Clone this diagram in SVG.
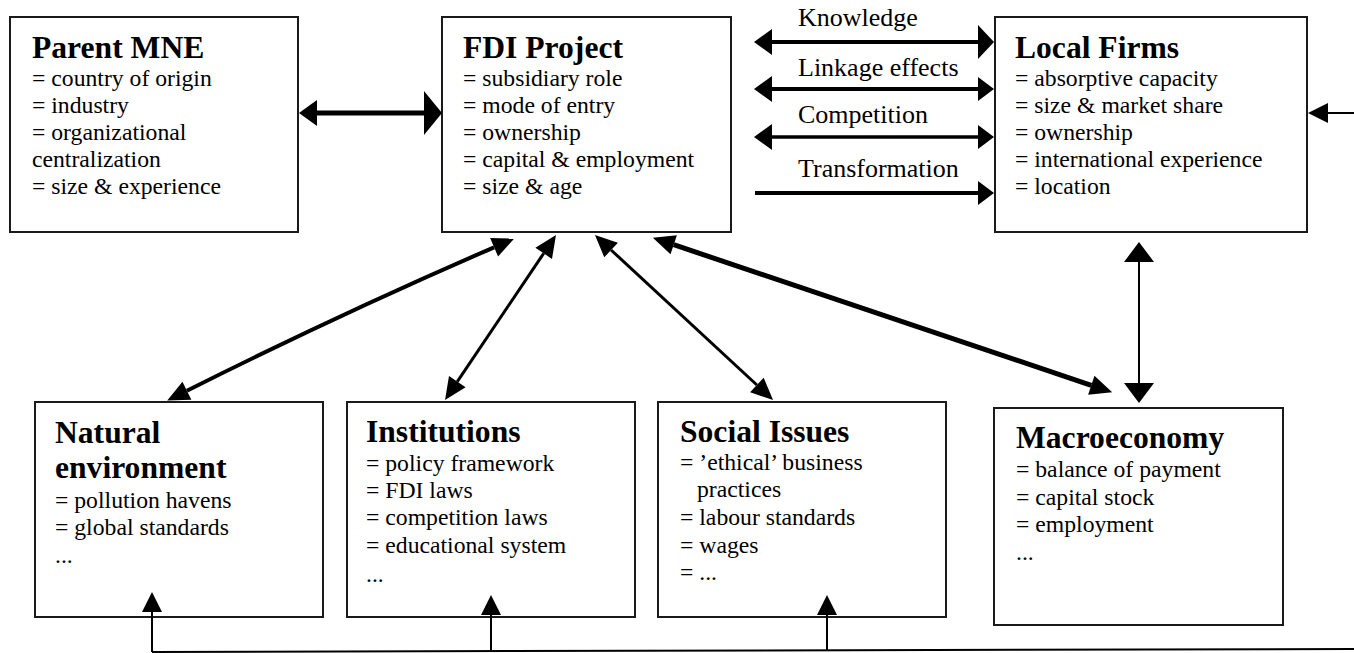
<svg xmlns="http://www.w3.org/2000/svg" width="1354" height="653" viewBox="0 0 1354 653">
  <style>
    .box { fill: #ffffff; stroke: #1a1a1a; stroke-width: 2; }
    .title { font-family: "Liberation Serif", "Times New Roman", "DejaVu Serif", serif; font-weight: bold; font-size: 31.6px; fill: #000; }
    .item { font-family: "Liberation Serif", "Times New Roman", "DejaVu Serif", serif; font-size: 23.7px; fill: #000; }
    .lbl { font-family: "Liberation Serif", "Times New Roman", "DejaVu Serif", serif; font-size: 26px; fill: #000; }
    .ln { fill: none; stroke: #000; }
  </style>
  <defs>
    <!-- arrowheads: base sits on the line end, tip points outward -->
    <marker id="mA" markerUnits="userSpaceOnUse" orient="auto-start-reverse" refX="0" refY="0" markerWidth="20" markerHeight="46" overflow="visible">
      <path d="M0,-22 L18,0 L0,22 z" fill="#000"/>
    </marker>
    <marker id="mB" markerUnits="userSpaceOnUse" orient="auto-start-reverse" refX="0" refY="0" markerWidth="20" markerHeight="30" overflow="visible">
      <path d="M0,-13 L18,0 L0,13 z" fill="#000"/>
    </marker>
    <marker id="mC" markerUnits="userSpaceOnUse" orient="auto-start-reverse" refX="0" refY="0" markerWidth="20" markerHeight="36" overflow="visible">
      <path d="M0,-17 L16,0 L0,17 z" fill="#000"/>
    </marker>
    <marker id="mD" markerUnits="userSpaceOnUse" orient="auto-start-reverse" refX="0" refY="0" markerWidth="20" markerHeight="26" overflow="visible">
      <path d="M0,-12 L16,0 L0,12 z" fill="#000"/>
    </marker>
    <marker id="mE" markerUnits="userSpaceOnUse" orient="auto-start-reverse" refX="0" refY="0" markerWidth="22" markerHeight="22" overflow="visible">
      <path d="M0,-10 L20,0 L0,10 z" fill="#000"/>
    </marker>
    <marker id="mF" markerUnits="userSpaceOnUse" orient="auto-start-reverse" refX="0" refY="0" markerWidth="22" markerHeight="32" overflow="visible">
      <path d="M0,-15 L20,0 L0,15 z" fill="#000"/>
    </marker>
    <marker id="mG" markerUnits="userSpaceOnUse" orient="auto-start-reverse" refX="0" refY="0" markerWidth="24" markerHeight="22" overflow="visible">
      <path d="M0,-10 L22,0 L0,10 z" fill="#000"/>
    </marker>
  </defs>

  <!-- Parent MNE -->
  <g id="parent-mne">
    <rect class="box" x="10" y="17" width="288" height="215"/>
    <text class="title" x="32" y="58">Parent MNE</text>
    <text class="item" x="32" y="86">= country of origin</text>
    <text class="item" x="32" y="113">= industry</text>
    <text class="item" x="32" y="140">= organizational</text>
    <text class="item" x="32" y="167">centralization</text>
    <text class="item" x="32" y="194">= size &amp; experience</text>
  </g>

  <!-- FDI Project -->
  <g id="fdi-project">
    <rect class="box" x="442" y="17" width="289" height="215"/>
    <text class="title" x="463" y="58">FDI Project</text>
    <text class="item" x="463" y="86">= subsidiary role</text>
    <text class="item" x="463" y="113">= mode of entry</text>
    <text class="item" x="463" y="140">= ownership</text>
    <text class="item" x="463" y="167">= capital &amp; employment</text>
    <text class="item" x="463" y="194">= size &amp; age</text>
  </g>

  <!-- Local Firms -->
  <g id="local-firms">
    <rect class="box" x="995" y="17" width="312" height="215"/>
    <text class="title" x="1015" y="58">Local Firms</text>
    <text class="item" x="1015" y="86">= absorptive capacity</text>
    <text class="item" x="1015" y="113">= size &amp; market share</text>
    <text class="item" x="1015" y="140">= ownership</text>
    <text class="item" x="1015" y="167">= international experience</text>
    <text class="item" x="1015" y="194">= location</text>
  </g>

  <!-- Natural environment -->
  <g id="natural-environment">
    <rect class="box" x="35" y="402" width="288" height="215"/>
    <text class="title" x="55" y="443">Natural</text>
    <text class="title" x="55" y="478">environment</text>
    <text class="item" x="55" y="508">= pollution havens</text>
    <text class="item" x="55" y="535">= global standards</text>
    <text class="item" x="55" y="563">...</text>
  </g>

  <!-- Institutions -->
  <g id="institutions">
    <rect class="box" x="347" y="402" width="288" height="215"/>
    <text class="title" x="366" y="442">Institutions</text>
    <text class="item" x="366" y="471">= policy framework</text>
    <text class="item" x="366" y="498">= FDI laws</text>
    <text class="item" x="366" y="525">= competition laws</text>
    <text class="item" x="366" y="553">= educational system</text>
    <text class="item" x="366" y="582">...</text>
  </g>

  <!-- Social Issues -->
  <g id="social-issues">
    <rect class="box" x="658" y="402" width="288" height="215"/>
    <text class="title" x="680" y="442">Social Issues</text>
    <text class="item" x="680" y="470">= ’ethical’ business</text>
    <text class="item" x="697" y="497">practices</text>
    <text class="item" x="680" y="525">= labour standards</text>
    <text class="item" x="680" y="553">= wages</text>
    <text class="item" x="680" y="580">= ...</text>
  </g>

  <!-- Macroeconomy -->
  <g id="macroeconomy">
    <rect class="box" x="994" y="408" width="289" height="217"/>
    <text class="title" x="1016" y="448">Macroeconomy</text>
    <text class="item" x="1016" y="477">= balance of payment</text>
    <text class="item" x="1016" y="505">= capital stock</text>
    <text class="item" x="1016" y="532">= employment</text>
    <text class="item" x="1016" y="560">...</text>
  </g>

  <!-- effect labels -->
  <g id="effect-labels">
    <text class="lbl" x="798" y="26">Knowledge</text>
    <text class="lbl" x="798" y="76">Linkage effects</text>
    <text class="lbl" x="798" y="123">Competition</text>
    <text class="lbl" x="798" y="177">Transformation</text>
  </g>

  <!-- connectors (drawn last so the feedback heads sit over the box fills) -->
  <g id="connectors">
    <!-- Parent MNE <-> FDI Project -->
    <line class="ln" x1="317" y1="113" x2="424" y2="113" stroke-width="5" marker-start="url(#mB)" marker-end="url(#mA)"/>
    <!-- FDI Project <-> Local Firms -->
    <line class="ln" x1="772" y1="42" x2="978" y2="42" stroke-width="4" marker-start="url(#mB)" marker-end="url(#mC)"/>
    <line class="ln" x1="772" y1="89" x2="978" y2="89" stroke-width="4" marker-start="url(#mB)" marker-end="url(#mD)"/>
    <line class="ln" x1="772" y1="137" x2="978" y2="137" stroke-width="3.5" marker-start="url(#mB)" marker-end="url(#mD)"/>
    <line class="ln" x1="755" y1="193" x2="978" y2="193" stroke-width="4" marker-end="url(#mD)"/>
    <!-- feedback from the right edge into Local Firms -->
    <line class="ln" x1="1354" y1="113" x2="1328" y2="113" stroke-width="2" marker-end="url(#mE)"/>
    <!-- Local Firms <-> Macroeconomy -->
    <line class="ln" x1="1139" y1="262" x2="1139" y2="383" stroke-width="2" marker-start="url(#mF)" marker-end="url(#mF)"/>
    <!-- FDI Project <-> lower boxes -->
    <path class="ln" d="M494.1,247.3 Q340,314 186.9,390.7" stroke-width="4" marker-start="url(#mG)" marker-end="url(#mG)"/>
    <line class="ln" x1="543.7" y1="253.3" x2="457.3" y2="381.7" stroke-width="3" marker-start="url(#mG)" marker-end="url(#mG)"/>
    <line class="ln" x1="611.1" y1="250" x2="756.9" y2="385" stroke-width="3" marker-start="url(#mG)" marker-end="url(#mG)"/>
    <line class="ln" x1="673.7" y1="244.7" x2="1091.3" y2="385.3" stroke-width="5" marker-start="url(#mG)" marker-end="url(#mG)"/>
    <!-- bottom feedback bus -->
    <path class="ln" d="M1354,649 L152,652" stroke-width="2"/>
    <line class="ln" x1="152" y1="652" x2="152" y2="612" stroke-width="2" marker-end="url(#mE)"/>
    <line class="ln" x1="491" y1="651" x2="491" y2="615" stroke-width="2" marker-end="url(#mE)"/>
    <line class="ln" x1="827" y1="651" x2="827" y2="615" stroke-width="2" marker-end="url(#mE)"/>
  </g>
</svg>
